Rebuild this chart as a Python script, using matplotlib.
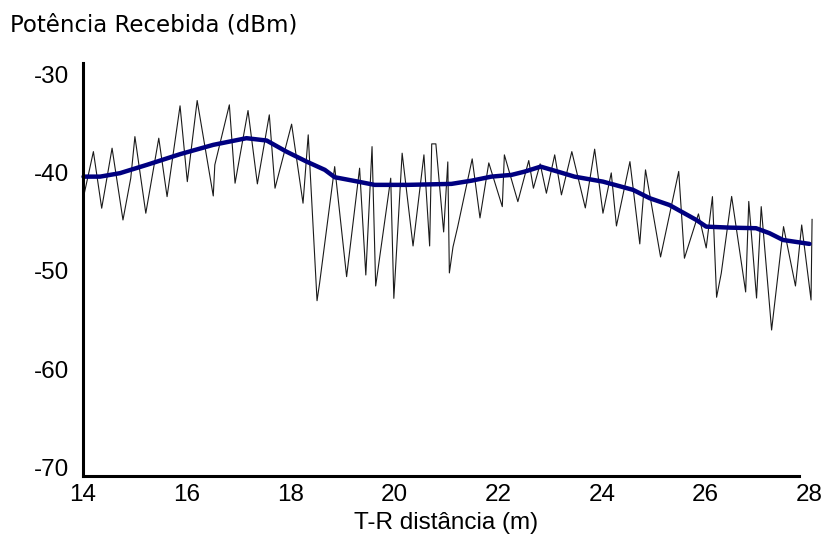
import matplotlib
matplotlib.use("Agg")
import matplotlib.pyplot as plt

plt.rcParams['axes.unicode_minus'] = False

# fast-fading trace (distance in m, power in dBm)
fast_dist = [14.01, 14.20, 14.36, 14.56, 14.77, 14.92, 15.00, 15.21, 15.46, 15.62,
             15.87, 16.01, 16.20, 16.51, 16.54, 16.82, 16.93, 17.18, 17.36, 17.59,
             17.70, 18.02, 18.24, 18.34, 18.51, 18.56, 18.85, 19.08, 19.33, 19.45,
             19.57, 19.64, 19.93, 19.99, 20.15, 20.36, 20.57, 20.68, 20.72, 20.80,
             20.95, 21.03, 21.06, 21.13, 21.22, 21.50, 21.65, 21.82, 22.08, 22.12,
             22.38, 22.59, 22.68, 22.81, 22.93, 23.09, 23.22, 23.42, 23.68, 23.86,
             24.02, 24.18, 24.28, 24.54, 24.73, 24.76, 24.84, 25.13, 25.48, 25.59,
             25.86, 26.01, 26.13, 26.21, 26.30, 26.50, 26.77, 26.83, 26.98, 27.07,
             27.27, 27.50, 27.73, 27.85, 28.03, 28.05]
fast_power = [-42.45, -37.83, -43.60, -37.48, -44.80, -40.54, -36.30, -44.11, -36.46, -42.42,
              -33.16, -40.89, -32.62, -42.35, -39.18, -33.06, -41.05, -33.64, -41.12, -34.08,
              -41.56, -35.03, -43.09, -36.12, -53.03, -51.22, -39.36, -50.58, -39.52, -50.41,
              -37.32, -51.53, -40.54, -52.79, -37.99, -47.45, -38.16, -47.45, -37.04, -37.04,
              -46.02, -38.88, -50.20, -47.55, -45.51, -38.57, -44.59, -38.98, -43.44, -38.16,
              -42.93, -38.74, -41.56, -39.08, -42.07, -38.16, -42.24, -37.83, -43.57, -37.58,
              -44.11, -40.00, -45.41, -38.85, -47.24, -45.00, -39.69, -48.57, -39.85, -48.70,
              -44.18, -47.65, -42.42, -52.68, -50.23, -42.40, -52.14, -42.91, -52.76, -43.44,
              -56.02, -45.48, -51.53, -45.31, -52.96, -44.74]

# local mean (slow fading)
mean_dist = [14.01, 14.33, 14.71, 15.23, 15.87, 16.51, 17.15, 17.54, 17.92, 18.31,
             18.66, 18.85, 19.30, 19.62, 20.26, 21.10, 21.49, 21.87, 22.26, 22.51,
             22.82, 23.15, 23.47, 24.02, 24.60, 24.92, 25.30, 25.82, 26.01, 26.46,
             26.97, 27.23, 27.49, 28.00]
mean_power = [-40.38, -40.38, -40.03, -39.18, -38.09, -37.14, -36.46, -36.70, -37.83, -38.85,
              -39.69, -40.44, -40.89, -41.22, -41.22, -41.12, -40.79, -40.38, -40.20, -39.87,
              -39.36, -39.87, -40.38, -40.89, -41.73, -42.58, -43.27, -44.80, -45.48, -45.58,
              -45.64, -46.15, -46.84, -47.24]

x_ticks = [14, 16, 18, 20, 22, 24, 26, 28]
y_ticks = [-30, -40, -50, -60, -70]

fig = plt.figure(figsize=(8.26, 5.39), dpi=100)
ax = fig.add_axes([0.1005, 0.117, 0.8795, 0.766])

ax.plot(fast_dist, fast_power, color='#1a1a1a', linewidth=0.8, clip_on=False)
ax.plot(mean_dist, mean_power, color='#000080', linewidth=3.2,
        solid_capstyle='round', solid_joinstyle='round', clip_on=False)

ax.set_xlim(14, 28)
ax.set_ylim(-70.9, -28.8)
ax.set_xticks(x_ticks)
ax.set_yticks(y_ticks)

for side in ['top', 'right']:
    ax.spines[side].set_visible(False)
for side in ['left', 'bottom']:
    ax.spines[side].set_linewidth(2.2)
ax.spines['bottom'].set_bounds(14, 27.8)

ax.tick_params(axis='both', length=0, labelsize=17.5)
ax.tick_params(axis='y', pad=10)
ax.tick_params(axis='x', pad=6)
for lbl in ax.get_xticklabels() + ax.get_yticklabels():
    lbl.set_fontfamily('Liberation Sans')

ax.set_xlabel('T-R distância (m)', fontsize=17.5, family='Liberation Sans', labelpad=4)
fig.text(0.012, 1 - 25 / 539, 'Potência Recebida (dBm)', fontsize=16.5,
         family='DejaVu Sans', ha='left', va='center')

fig.savefig('out.png', dpi=100)
